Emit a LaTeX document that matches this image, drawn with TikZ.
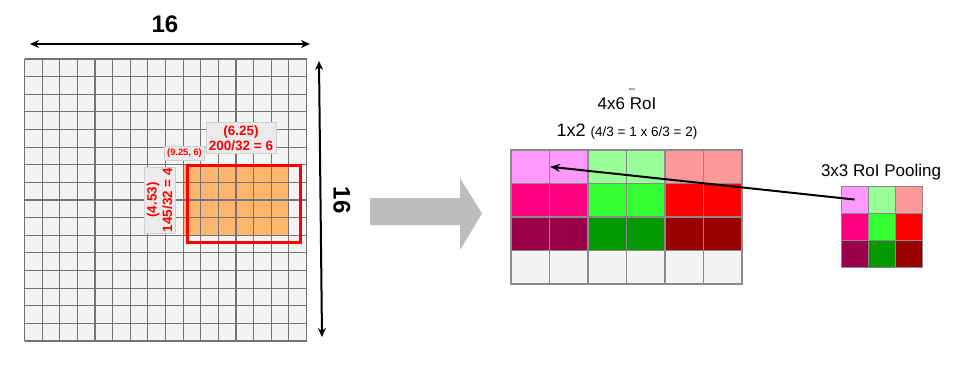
\documentclass[tikz,border=0pt]{standalone}
\usepackage{fontspec}
\setmainfont{Liberation Sans}
\usetikzlibrary{arrows.meta}
\definecolor{cellbg}{HTML}{F4F4F4}
\definecolor{gridgray}{HTML}{747474}
\definecolor{orangeF}{HTML}{FFB66C}
\definecolor{boxbg}{HTML}{EBEBEB}
\definecolor{boxline}{HTML}{CFCFCF}
\definecolor{blockgray}{HTML}{BDBDBD}
\definecolor{pinkL}{HTML}{FF99FF}
\definecolor{greenL}{HTML}{99FF99}
\definecolor{redL}{HTML}{FF9999}
\definecolor{pinkM}{HTML}{FF0080}
\definecolor{greenM}{HTML}{33FF33}
\definecolor{redM}{HTML}{FF0000}
\definecolor{pinkD}{HTML}{990049}
\definecolor{greenD}{HTML}{009900}
\definecolor{redD}{HTML}{990000}
\definecolor{cellline}{HTML}{8A8A8A}
\tikzset{
  gridline/.style={draw=gridgray, line width=1.2pt},
  dimarrow/.style={{Stealth[length=9pt,width=8pt]}-{Stealth[length=9pt,width=8pt]}, line width=2pt, black},
  bigbold/.style={font=\fontsize{24}{26}\selectfont\bfseries},
  lbox/.style={fill=boxbg, draw=boxline, line width=0.8pt, text=red, align=center, inner sep=1pt,
               font=\fontsize{13.5}{15.5}\selectfont\bfseries},
  rcell/.style={draw=cellline, line width=1.1pt, minimum width=38.5pt, minimum height=33.5pt, inner sep=0pt},
  pcell/.style={draw=cellline, line width=0.8pt, minimum width=27pt, minimum height=27pt, inner sep=0pt},
  title/.style={font=\fontsize{17}{19}\selectfont},
}
\begin{document}
\begin{tikzpicture}[x=1pt,y=-1pt]
\useasboundingbox (0,0) rectangle (960,376);
% left grid
\fill[cellbg] (24.5,59) rectangle (306.5,341);
\fill[orangeF] (182.9,164.6) rectangle (288.5,235);
\foreach \i in {0,...,16}{
  \draw[gridline] ({24.5+17.625*\i},59) -- ({24.5+17.625*\i},341);
  \draw[gridline] (24.5,{59+17.625*\i}) -- (306.5,{59+17.625*\i});
}
\draw[red, line width=3pt] (187,165) rectangle (300,242);
% label boxes
\node[lbox, minimum width=70pt, minimum height=31pt] (lab625) at (241,138) {(6.25)\\200/32 = 6};
\node[lbox, minimum width=40pt, minimum height=14pt, font=\fontsize{9.3}{11}\selectfont\bfseries] (lab925) at (184.5,153.5) {(9.25, 6)};
\node[lbox, minimum width=66pt, minimum height=31pt, rotate=90] (lab453) at (159.5,200) {(4.53)\\145/32 = 4};
% dimension arrows
\coordinate (ta) at (30,44);
\coordinate (tb) at (310,44);
\draw[dimarrow] (ta) -- (tb);
\node[bigbold] (t16) at (165,24) {16};
\coordinate (ra) at (319,61);
\coordinate (rb) at (322,337);
\draw[dimarrow] (ra) -- (rb);
\node[bigbold, rotate=-90] (r16) at (342,200) {16};
% block arrow
\fill[blockgray] (370,198) -- (460,198) -- (460,178) -- (482,213.5) -- (460,250) -- (460,225) -- (370,225) -- cycle;
% right grid
\foreach \r/\ca/\cb/\cc in {1/pinkL/greenL/redL,2/pinkM/greenM/redM,3/pinkD/greenD/redD,4/cellbg/cellbg/cellbg}{
  \foreach \c/\col in {1/\ca,2/\ca,3/\cb,4/\cb,5/\cc,6/\cc}{
    \node[rcell, fill=\col] (r-\r-\c) at ({511+38.5*(\c-0.5)},{150+33.5*(\r-0.5)}) {};
  }
}
\node[title] (roi) at (627,104) {4x6 RoI};
\node[font=\fontsize{3.5}{4}\selectfont, inner sep=0pt] (tiny) at (632,89) {text};
\node[inner sep=0pt] (split) at (627,132) {\fontsize{18}{20}\selectfont 1x2 \fontsize{13.5}{15}\selectfont(4/3 = 1 x 6/3 = 2)};
% pooling grid
\foreach \r/\ca/\cb/\cc in {1/pinkL/greenL/redL,2/pinkM/greenM/redM,3/pinkD/greenD/redD}{
  \foreach \c/\col in {1/\ca,2/\cb,3/\cc}{
    \node[pcell, fill=\col] (p-\r-\c) at ({841+27*(\c-0.5)},{186+27*(\r-0.5)}) {};
  }
}
\node[title] (pool) at (881,172) {3x3 RoI Pooling};
% connector
\draw[-{Stealth[length=10pt,width=8pt]}, line width=2pt, black] (p-1-1.center) -- (r-1-1.east);
\end{tikzpicture}
\end{document}
